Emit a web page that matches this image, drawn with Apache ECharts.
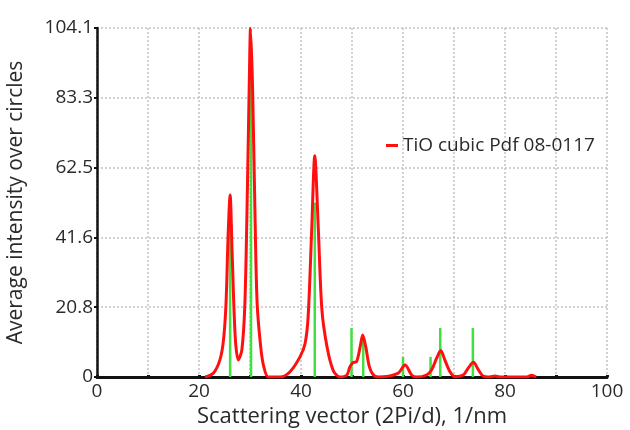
<!DOCTYPE html>
<html>
<head>
<meta charset="utf-8">
<script src="https://cdn.jsdelivr.net/npm/echarts@6/dist/echarts.min.js"></script>
<style>
  html, body { margin: 0; padding: 0; background: #fff; }
  #chart { width: 630px; height: 430px; }
</style>
</head>
<body>
<div id="chart"></div>
<script>
// measured curve, [q, intensity]
var curveX = [21.2, 22.8, 24.1, 24.8, 25.3, 25.7, 26.1, 26.5, 27.1, 27.7, 28.4, 29.0, 29.5, 29.9, 30.1, 30.5, 31.0, 31.4, 32.1, 32.7, 33.6,
  35.9, 37.8, 39.8, 40.8, 41.4, 42.1, 42.7, 43.4, 44.1, 45.1, 46.3, 47.6,
  49.0, 49.6, 50.2, 50.9, 51.6, 52.1, 52.7, 53.4, 54.2, 55.1,
  59.0, 60.4, 61.7, 62.7, 64.6, 65.6, 66.6, 67.4, 68.2, 69.2, 70.2,
  71.8, 72.8, 73.8, 74.8, 75.7, 77.0, 78.0, 79.0, 84.3, 85.2, 86.1];
var curveY = [0, 1.1, 5.1, 11, 22, 41.9, 54.3, 36.9, 12, 5.1, 8, 22, 56.8, 91.6, 104, 86.6, 46.8, 22, 9, 3.1, 0,
  0, 1.5, 6, 10, 18, 44, 66, 44, 20, 9, 2, 0,
  0.6, 3.1, 4.3, 4.6, 9, 12.5, 9, 3.1, 0.6, 0,
  1.1, 3.6, 0.6, 0, 0.6, 2.1, 5.6, 7.9, 5.1, 1.6, 0.1,
  0.6, 2.7, 4.4, 2.1, 0.3, 0, 0.3, 0, 0, 0.5, 0];

// reference card lines
var pdfX = [26.1, 30.2, 42.7, 49.9, 52.2, 60.0, 65.4, 67.3, 73.7];
var pdfY = [46, 100, 52, 14.6, 11, 6, 6, 14.6, 14.6];

var yTicks = [0, 20.8, 41.6, 62.5, 83.3, 104.1];

var curve = curveX.map(function (x, i) { return [x, curveY[i]]; });
var sticks = pdfX.map(function (x, i) { return [x, pdfY[i]]; });

var chart = echarts.init(document.getElementById('chart'));
var txt = '#2a2a2a';
chart.setOption({
  animation: false,
  textStyle: { fontFamily: 'Open Sans' },
  grid: { left: 97, right: 23, top: 28, bottom: 53, containLabel: false, outerBoundsMode: 'none' },
  legend: {
    left: 381, top: 131,
    data: [{ name: 'TiO cubic Pdf 08-0117', icon: 'rect' }],
    itemWidth: 12, itemHeight: 3, itemGap: 4,
    textStyle: { color: txt, fontSize: 19, fontFamily: 'Open Sans' }
  },
  xAxis: {
    type: 'value', min: 0, max: 100, interval: 10,
    name: 'Scattering vector (2Pi/d), 1/nm',
    nameLocation: 'middle', nameGap: 28,
    nameTextStyle: { color: txt, fontSize: 22 },
    axisLine: { lineStyle: { color: '#111', width: 3 } },
    axisTick: { show: true, inside: true, length: 2, lineStyle: { color: '#111', width: 3 } },
    axisLabel: {
      color: txt, fontSize: 19, margin: 5,
      formatter: function (v) { return v % 20 === 0 ? String(v) : ''; }
    },
    splitLine: { show: true, lineStyle: { color: '#c4c4c4', type: [2, 2], width: 1.5 } }
  },
  yAxis: {
    type: 'value', min: 0, max: 104.1, interval: 20.82,
    name: 'Average intensity over circles',
    nameLocation: 'middle', nameGap: 70,
    nameTextStyle: { color: txt, fontSize: 21 },
    axisLine: { show: true, lineStyle: { color: '#111', width: 2.5 } },
    axisTick: { show: true, length: 3, lineStyle: { color: '#111', width: 2 } },
    axisLabel: {
      color: txt, fontSize: 19, margin: 4,
      formatter: function (v) {
        var i = Math.round(v / 20.82);
        return yTicks[i] === 0 ? '0' : yTicks[i].toFixed(1);
      }
    },
    splitLine: { show: true, lineStyle: { color: '#c4c4c4', type: [2, 2], width: 1.5 } }
  },
  series: [
    {
      name: 'PDF', type: 'bar', data: sticks, barWidth: 2.5,
      itemStyle: { color: '#3fe03f' }, z: 2
    },
    {
      name: 'TiO cubic Pdf 08-0117', type: 'line', data: curve,
      smooth: 0.3, showSymbol: false,
      lineStyle: { color: '#ff1010', width: 3 },
      itemStyle: { color: '#ff1010' }, z: 3
    }
  ]
});
</script>
</body>
</html>
